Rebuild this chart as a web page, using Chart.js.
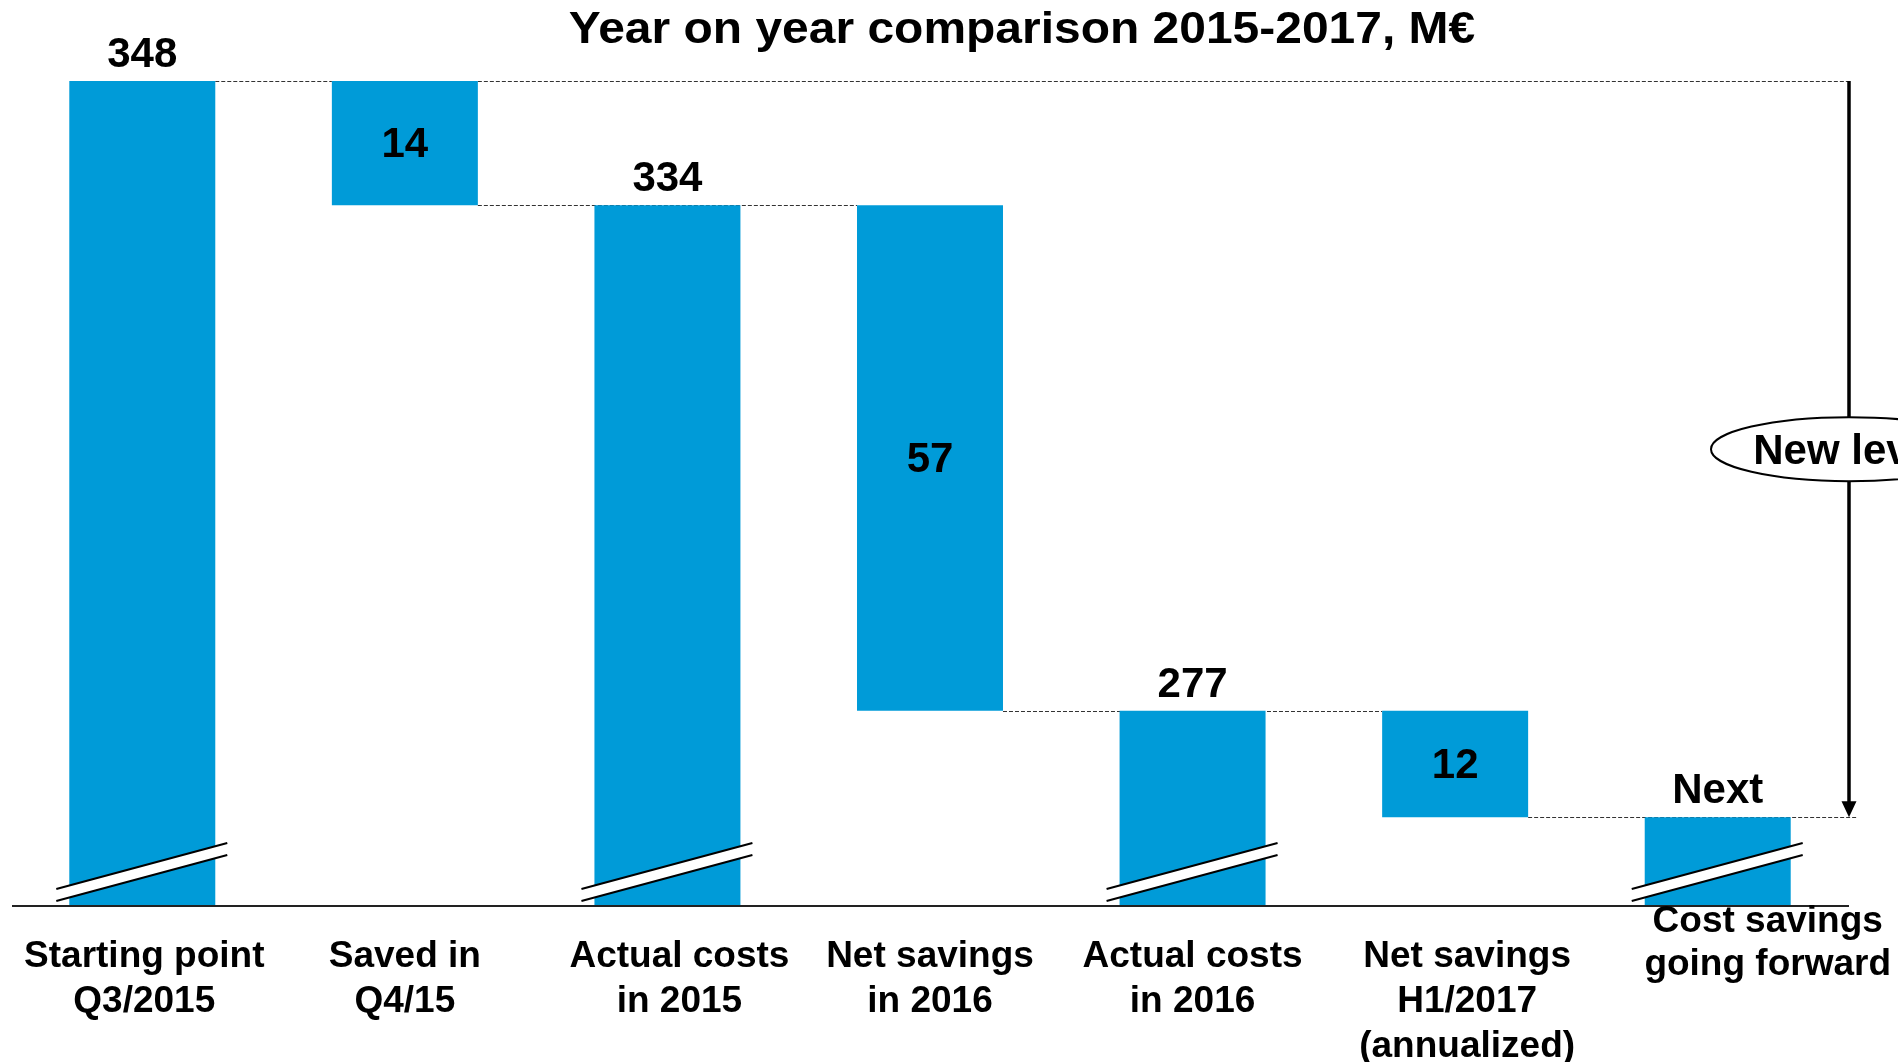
<!DOCTYPE html>
<html lang="en">
<head>
  <meta charset="UTF-8">
  <title>Year on year comparison 2015-2017</title>
  <style>
    body { margin: 0; background: #fff; overflow: hidden; }
    #wrap { position: relative; width: 1898px; height: 1062px; }
  </style>
</head>
<body>
  <div id="wrap"><canvas id="chart"></canvas></div>

  <script src="https://cdn.jsdelivr.net/npm/chart.js"></script>
  <script>
    // data
    const categories = [
      ["Starting point", "Q3/2015"],
      ["Saved in", "Q4/15"],
      ["Actual costs", "in 2015"],
      ["Net savings", "in 2016"],
      ["Actual costs", "in 2016"],
      ["Net savings", "H1/2017", "(annualized)"],
      ["Cost savings", "going forward"]
    ];
    const steps = [348, -14, 334, -57, 277, -12, 265];
    const kinds = ["total", "delta", "total", "delta", "total", "delta", "total"];
    const valueLabels = ["348", "14", "334", "57", "277", "12", "Next"];
    const axisMin = 255;
    const axisMax = 348;

    const title = "Year on year comparison 2015-2017, M\u20ac";
    const bubbleText = "New level";

    // floating bars: totals start at the (broken) axis, deltas hang from the previous level
    let level = 0;
    const ranges = steps.map((v, i) => {
      if (kinds[i] === "total") { level = v; return [axisMin, v]; }
      const r = [level + v, level];
      level += v;
      return r;
    });

    const BLUE = "#009BD8";
    const FONT = "'Liberation Sans', Arial, sans-serif";

    const extras = {
      id: "extras",
      beforeDatasetsDraw(chart) {
        const ctx = chart.ctx;
        const bars = chart.getDatasetMeta(0).data;
        const y = chart.scales.y;
        const area = chart.chartArea;
        const arrowX = area.right;
        const L = b => b.x - b.width / 2;
        const R = b => b.x + b.width / 2;

        ctx.save();
        ctx.strokeStyle = "#333";
        ctx.lineWidth = 1;
        ctx.setLineDash([4, 2]);
        const dash = (x1, x2, yy) => {
          ctx.beginPath();
          ctx.moveTo(x1, Math.round(yy) + 0.5);
          ctx.lineTo(x2, Math.round(yy) + 0.5);
          ctx.stroke();
        };
        // top level reaches across to the arrow
        dash(R(bars[0]), L(bars[1]), y.getPixelForValue(ranges[0][1]));
        dash(R(bars[1]), arrowX, y.getPixelForValue(ranges[0][1]));
        for (let i = 1; i < bars.length; i += 2) {
          const yy = y.getPixelForValue(ranges[i][0]);
          const end = i + 2 < bars.length ? L(bars[i + 2]) : arrowX + 8;
          dash(R(bars[i]), end, yy);
        }
        ctx.restore();
      },
      afterDatasetsDraw(chart) {
        const ctx = chart.ctx;
        const bars = chart.getDatasetMeta(0).data;
        const y = chart.scales.y;
        const area = chart.chartArea;
        const base = area.bottom;

        ctx.save();
        // baseline
        ctx.strokeStyle = "#222";
        ctx.lineWidth = 2;
        ctx.beginPath();
        ctx.moveTo(area.left + 1, base);
        ctx.lineTo(area.right, base);
        ctx.stroke();

        // break marks on the totals
        bars.forEach((b, i) => {
          if (kinds[i] !== "total") return;
          const x1 = b.x - b.width / 2 - 13, x2 = b.x + b.width / 2 + 12;
          ctx.fillStyle = "#fff";
          ctx.beginPath();
          ctx.moveTo(x1, base - 17);
          ctx.lineTo(x2, base - 63);
          ctx.lineTo(x2, base - 51);
          ctx.lineTo(x1, base - 5);
          ctx.closePath();
          ctx.fill();
          ctx.strokeStyle = "#000";
          ctx.lineWidth = 2;
          ctx.beginPath();
          ctx.moveTo(x1, base - 17); ctx.lineTo(x2, base - 63);
          ctx.moveTo(x1, base - 5); ctx.lineTo(x2, base - 51);
          ctx.stroke();
        });

        // value labels
        ctx.fillStyle = "#000";
        ctx.textAlign = "center";
        ctx.font = "bold 42px " + FONT;
        bars.forEach((b, i) => {
          if (kinds[i] === "total") {
            ctx.textBaseline = "alphabetic";
            ctx.fillText(valueLabels[i], b.x, b.y - 14);
          } else {
            ctx.textBaseline = "middle";
            ctx.fillText(valueLabels[i], b.x, (b.y + b.base) / 2 + 2);
          }
        });

        // category labels
        ctx.textBaseline = "alphabetic";
        ctx.font = "bold 37px " + FONT;
        const shift = [2, 0, 12, 0, 0, 12, 50];
        categories.forEach((lines, i) => {
          const last = i === categories.length - 1;
          const top = last ? base + 26 : base + 61;
          const gap = last ? 43 : 45;
          lines.forEach((t, k) => ctx.fillText(t, bars[i].x + shift[i], top + k * gap));
        });

        // arrow from the old level down to the new one
        const ax = area.right;
        const yTop = y.getPixelForValue(ranges[0][1]);
        const yEnd = y.getPixelForValue(ranges[ranges.length - 1][1]);
        ctx.strokeStyle = "#000";
        ctx.lineWidth = 3.5;
        ctx.beginPath();
        ctx.moveTo(ax, yTop);
        ctx.lineTo(ax, yEnd - 14);
        ctx.stroke();
        ctx.fillStyle = "#000";
        ctx.beginPath();
        ctx.moveTo(ax - 7.5, yEnd - 16);
        ctx.lineTo(ax + 7.5, yEnd - 16);
        ctx.lineTo(ax, yEnd);
        ctx.closePath();
        ctx.fill();

        // bubble
        const cy = (yTop + yEnd) / 2;
        ctx.fillStyle = "#fff";
        ctx.strokeStyle = "#000";
        ctx.lineWidth = 2;
        ctx.beginPath();
        ctx.ellipse(ax, cy, 138, 32, 0, 0, Math.PI * 2);
        ctx.fill();
        ctx.stroke();
        ctx.fillStyle = "#000";
        ctx.font = "bold 42px " + FONT;
        ctx.textBaseline = "alphabetic";
        ctx.fillText(bubbleText, ax, cy + 15);

        // title (slightly stretched, as in the original)
        ctx.font = "bold 44px " + FONT;
        ctx.translate(1022, 43);
        ctx.scale(1.09, 1);
        ctx.fillText(title, 0, 0);
        ctx.restore();
      }
    };

    new Chart(document.getElementById("chart"), {
      type: "bar",
      data: {
        labels: categories,
        datasets: [{
          data: ranges,
          backgroundColor: BLUE,
          borderWidth: 0,
          barPercentage: 0.556,
          categoryPercentage: 1
        }]
      },
      options: {
        responsive: true,
        maintainAspectRatio: false,
        animation: false,
        layout: { padding: { left: 11, right: 49, top: 81, bottom: 156 } },
        plugins: { legend: { display: false }, tooltip: { enabled: false } },
        scales: {
          x: { display: false },
          y: { display: false, min: axisMin, max: axisMax }
        }
      },
      plugins: [extras]
    });
  </script>
</body>
</html>
